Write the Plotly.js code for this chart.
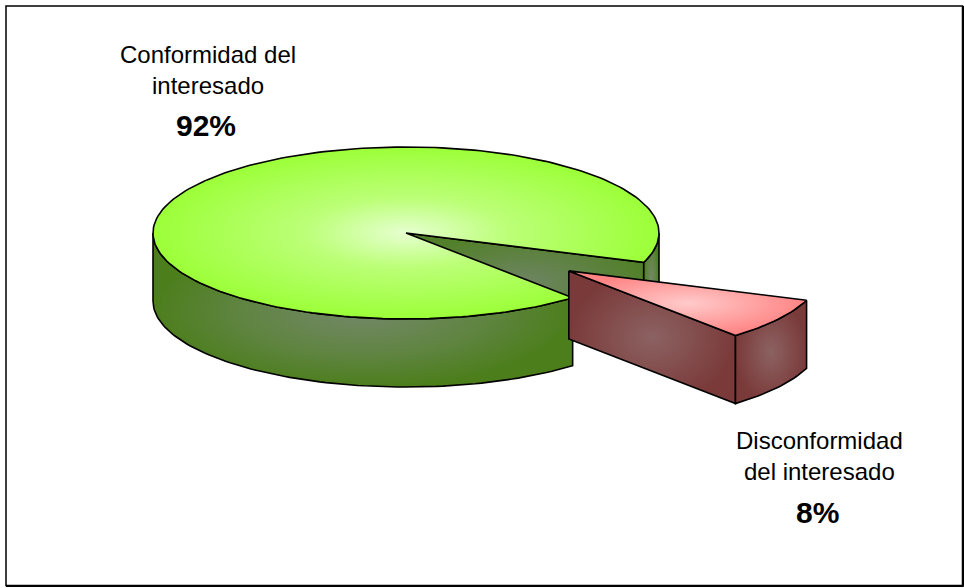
<!DOCTYPE html>
<html><head><meta charset="utf-8">
<script src="https://cdn.plot.ly/plotly-3.0.1.min.js"></script>
<style>html,body{margin:0;padding:0;background:#fff}#chart{width:964px;height:588px}</style>
</head><body><div id="chart"></div>
<script>
// ---- data ----
const categories = ['Conformidad del<br>interesado', 'Disconformidad<br>del interesado'];
const values = [92, 8];
const percentLabels = ['92%', '8%'];

// ---- geometry / style (pixel space) ----
const W = 964, H = 588;
const CX = 406, CY = 233, RX = 253, RY = 86, DEPTH = 68, START = 20;
const pulls = [0, 0.78];
const styles = [
  { top: [[0,'#e6ffd0'],[0.4,'#bcff78'],[1,'#9cff38']],
    side: [[0,'#74886a'],[0.6,'#5f8440'],[1,'#4c7e1c']],
    cut: [[0,'#6e8462'],[1,'#52802a']] },
  { top: [[0,'#ffcaca'],[1,'#ff8484']],
    side: [[0,'#8c6262'],[0.6,'#824a4a'],[1,'#7a3a3a']],
    cut: [[0,'#8c6262'],[0.6,'#824a4a'],[1,'#7a3a3a']] }
];

const total = values.reduce((a, b) => a + b, 0);
const spans = values.map(v => v / total * 360);
// slice 1 starts at START, slice 0 takes the rest of the circle
const ranges = [[START + spans[1], START + 360], [START, START + spans[1]]];
const rad = d => d * Math.PI / 180;

function arc(a, b, off, dz) {
  const xs = [], ys = [];
  const n = Math.max(2, Math.ceil(Math.abs(b - a) / 1.5));
  for (let i = 0; i <= n; i++) {
    const t = rad(a + (b - a) * i / n);
    xs.push(CX + off.x + RX * Math.cos(t));
    ys.push(CY + off.y + RY * Math.sin(t) + dz);
  }
  return [xs, ys];
}
function poly(xs, ys, cs, type) {
  return { type: 'scatter', mode: 'lines', x: xs.concat([xs[0]]), y: ys.concat([ys[0]]),
    fill: 'toself', fillgradient: { type: type, colorscale: cs },
    line: { color: '#000', width: 1.6 }, hoverinfo: 'skip', showlegend: false };
}

const traces = [];
[0, 1].forEach(i => {
  const [a0, a1] = ranges[i];
  const mid = rad((a0 + a1) / 2);
  const off = { x: RX * Math.cos(mid) * pulls[i], y: RY * Math.sin(mid) * pulls[i] };
  const c = { x: CX + off.x, y: CY + off.y };
  const st = styles[i];
  // cut faces
  const cutFace = (ang) => {
    const t = rad(ang);
    const px = c.x + RX * Math.cos(t), py = c.y + RY * Math.sin(t);
    return poly([c.x, px, px, c.x], [c.y, py, py + DEPTH, c.y + DEPTH], st.cut, 'radial');
  };
  if (Math.cos(rad(a1)) > 0) traces.push(cutFace(a1));
  if (-Math.cos(rad(a0)) > 0) traces.push(cutFace(a0));
  // outer side (front half only)
  for (let k = 0; k < 2; k++) {
    const lo = Math.max(a0, k * 360), hi = Math.min(a1, k * 360 + 180);
    if (hi > lo) {
      const [tx, ty] = arc(lo, hi, off, 0);
      const [bx, by] = arc(hi, lo, off, DEPTH);
      traces.push(poly(tx.concat(bx), ty.concat(by), st.side, 'radial'));
    }
  }
  // top face
  const [tx, ty] = arc(a0, a1, off, 0);
  traces.push(poly([c.x].concat(tx), [c.y].concat(ty), st.top, 'radial'));
});

const FONT = 'Liberation Sans, Arial, sans-serif';
const labelPos = [{ x: 208, y: 70, py: 125 }, { x: 819, y: 456, py: 512 }];
const annotations = [];
categories.forEach((cat, i) => {
  annotations.push({ x: labelPos[i].x, y: labelPos[i].y, xref: 'x', yref: 'y', text: cat,
    showarrow: false, align: 'center', font: { family: FONT, size: 24, color: '#000' } });
  annotations.push({ x: labelPos[i].x - 2, y: labelPos[i].py, xref: 'x', yref: 'y',
    text: '<b>' + percentLabels[i] + '</b>', showarrow: false,
    font: { family: FONT, size: 30, color: '#000' } });
});

const layout = {
  width: W, height: H, margin: { l: 0, r: 0, t: 0, b: 0 },
  paper_bgcolor: '#fff', plot_bgcolor: '#fff', showlegend: false,
  xaxis: { range: [0, W], visible: false, fixedrange: true },
  yaxis: { range: [H, 0], visible: false, fixedrange: true },
  annotations: annotations,
  shapes: [
    { type: 'rect', xref: 'x', yref: 'y', x0: 6, y0: 6, x1: 962.5, y1: 585.5,
      line: { color: '#000', width: 1.5 } },
    { type: 'line', xref: 'x', yref: 'y', x0: 963, y0: 6, x1: 963, y1: 586.5, line: { color: '#000', width: 2 } },
    { type: 'line', xref: 'x', yref: 'y', x0: 6, y0: 586, x1: 963.5, y1: 586, line: { color: '#000', width: 2 } }
  ]
};
Plotly.newPlot('chart', traces, layout, { displayModeBar: false, staticPlot: true });
</script>
</body></html>
